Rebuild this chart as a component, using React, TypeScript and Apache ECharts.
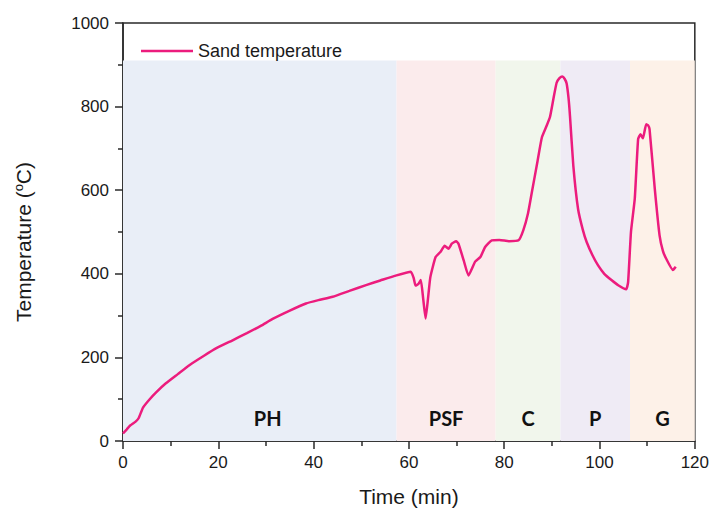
import React, { useEffect, useRef } from "react";
import * as echarts from "echarts";

// Sand temperature record (time in min, temperature in °C)
const timeMin = [
  0, 0.8, 1.5, 2.7, 3.3, 4.2, 5.6, 7, 9, 11.5, 14, 17, 19.6, 23, 26, 29, 31.4, 35, 38.4, 41, 44, 47.5, 51, 54, 57,
  60.4, 61, 61.4, 62, 62.5, 63, 63.5, 64, 64.5, 65.6, 66.6, 67.5, 68.3, 69, 69.9, 70.4, 71.5, 72.5, 73.9, 75, 76, 77.4,
  79, 81, 83, 84, 85, 85.8, 87, 87.9, 88.9, 89.6, 90.3, 91, 91.6, 92.2, 92.7, 93.1, 93.5, 93.8, 94.5, 95.5, 96.5, 97.3,
  98.5, 99.7, 101, 102.5, 104, 105.6, 106, 106.6, 107.4, 108.1, 108.6, 109.1, 109.8, 110.2, 110.5, 111.6, 112.6, 113.3,
  114, 115.4, 116,
];
const sandTemp = [
  18, 28, 37, 47, 55, 80, 100, 117, 138, 160, 182, 204, 222, 241, 258, 276, 292, 312, 329, 337, 345, 359, 373, 384, 395,
  405, 390, 372, 376, 385, 340, 293, 340, 392, 440, 452, 467, 460, 472, 478, 472, 432, 396, 429, 440, 464, 480,
  481, 478, 480, 504, 545, 595, 670, 726, 754, 775, 817, 857, 868, 872, 866, 855, 820, 778, 659, 555, 505, 476,
  445, 420, 400, 385, 372, 363, 380, 500, 580, 722, 734, 724, 758, 755, 746, 603, 492, 455,
  436, 409, 417,
];

// Process stages
const stageNames = ["PH", "PSF", "C", "P", "G"];
const stageStart = [0, 57.4, 78.2, 91.8, 106.4];
const stageEnd = [57.4, 78.2, 91.8, 106.4, 120];
const stageTop = 910;

const xTicks = [0, 20, 40, 60, 80, 100, 120];
const yTicks = [0, 200, 400, 600, 800, 1000];

const stageColors = ["#E9EEF7", "#FBEBEC", "#F1F6EC", "#EFEBF5", "#FDF1E8"];

export default function App() {
  const ref = useRef<HTMLDivElement>(null);
  useEffect(() => {
    if (!ref.current) return;
    const chart = echarts.init(ref.current, undefined, { renderer: "svg" });
    const axisFont = "'Liberation Sans', Arial, sans-serif";
    const data = timeMin.map((t, i) => [t, sandTemp[i]]);
    chart.setOption({
      animation: false,
      backgroundColor: "#ffffff",
      grid: {
        left: 123,
        right: 15,
        top: 23,
        bottom: 67,
        show: true,
        borderColor: "#2a2a2a",
        borderWidth: 1.5,
        backgroundColor: "transparent",
      },
      legend: {
        left: 136,
        top: 37,
        itemWidth: 52,
        itemHeight: 2.5,
        icon: "rect",
        data: ["Sand temperature"],
        textStyle: { fontFamily: axisFont, fontSize: 18, color: "#1a1a1a" },
      },
      xAxis: {
        type: "value",
        min: xTicks[0],
        max: xTicks[xTicks.length - 1],
        interval: 20,
        name: "Time (min)",
        nameLocation: "middle",
        nameGap: 45,
        nameTextStyle: { fontFamily: axisFont, fontSize: 21, color: "#1a1a1a" },
        axisLine: { show: true, onZero: false, lineStyle: { color: "#2a2a2a", width: 1.5 } },
        axisTick: { show: true, length: 8, lineStyle: { color: "#2a2a2a", width: 1.5 } },
        minorTick: { show: true, splitNumber: 2, length: 5, lineStyle: { color: "#2a2a2a", width: 1.5 } },
        splitLine: { show: false },
        axisLabel: { fontFamily: axisFont, fontSize: 17, color: "#1a1a1a", margin: 13, formatter: (v: number) => String(v) },
      },
      yAxis: {
        type: "value",
        min: yTicks[0],
        max: yTicks[yTicks.length - 1],
        interval: 200,
        name: "Temperature ({sup|o}C)",
        nameLocation: "middle",
        nameGap: 88,
        nameRotate: 90,
        nameTextStyle: {
          fontFamily: axisFont,
          fontSize: 21,
          color: "#1a1a1a",
          padding: [0, 20, 0, 0],
          rich: {
            sup: { fontFamily: axisFont, fontSize: 13, color: "#1a1a1a", padding: [0, 0, 10, 0] },
          },
        },
        axisLine: { show: true, onZero: false, lineStyle: { color: "#2a2a2a", width: 1.5 } },
        axisTick: { show: true, length: 8, lineStyle: { color: "#2a2a2a", width: 1.5 } },
        minorTick: { show: true, splitNumber: 2, length: 5, lineStyle: { color: "#2a2a2a", width: 1.5 } },
        splitLine: { show: false },
        axisLabel: { fontFamily: axisFont, fontSize: 17, color: "#1a1a1a", margin: 14, formatter: (v: number) => String(v) },
      },
      series: [
        {
          name: "Sand temperature",
          type: "line",
          data,
          symbol: "none",
          smooth: 0.15,
          color: "#EC1C7D",
          lineStyle: { color: "#EC1C7D", width: 2.5 },
          z: 5,
          markArea: {
            silent: true,
            data: stageNames.map((name, i) => [
              {
                name,
                xAxis: stageStart[i],
                yAxis: 0,
                itemStyle: { color: stageColors[i] },
                label: { offset: i === 0 ? [8, 0] : [0, 0] },
              },
              { xAxis: stageEnd[i], yAxis: stageTop },
            ]),
            label: {
              show: true,
              position: "insideBottom",
              distance: 13,
              fontFamily: "Lato, 'Open Sans', sans-serif",
              fontWeight: "bold",
              fontSize: 20,
              color: "#111",
            },
          },
        },
      ],
    });
    return () => chart.dispose();
  }, []);
  return <div ref={ref} style={{ position: "fixed", left: 0, top: 0, width: 712, height: 512 }} />;
}
